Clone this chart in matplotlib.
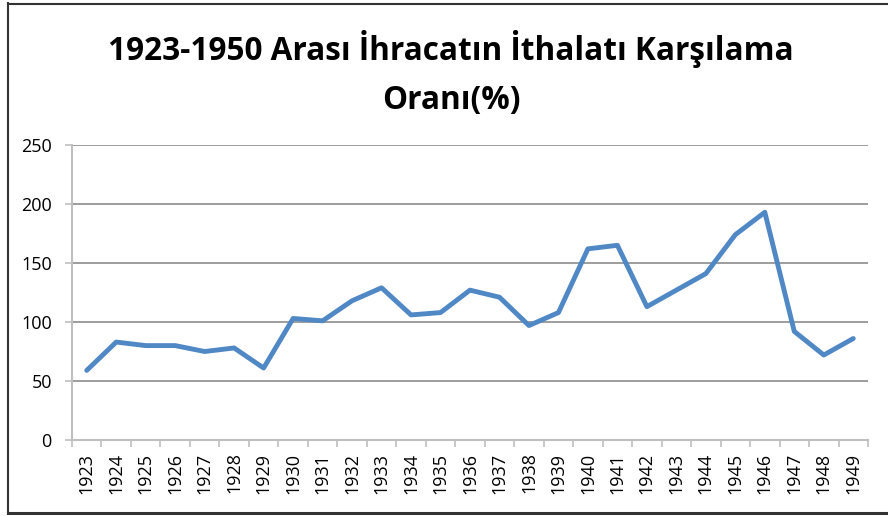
import numpy as np
import matplotlib.pyplot as plt
from matplotlib.lines import Line2D

# years and export/import coverage ratio (%)
years = [str(y) for y in range(1923, 1950)]
ratio = [59, 83, 80, 80, 75, 78, 61, 103, 101, 118, 129, 106, 108, 127,
         121, 97, 108, 162, 165, 113, 127, 141, 174, 193, 92, 72, 86]
yticks = [0, 50, 100, 150, 200, 250]

title = "1923-1950 Arası İhracatın İthalatı Karşılama\nOranı(%)"

plt.rcParams['font.family'] = ['Open Sans', 'DejaVu Sans']

fig = plt.figure(figsize=(8.88, 5.16), dpi=100)
ax = fig.add_axes([72 / 888, 1 - 440 / 516, 796 / 888, 295 / 516])

x = np.arange(len(years))
ax.plot(x, ratio, color="#5088C6", linewidth=3.5, solid_joinstyle="round",
        solid_capstyle="round")

ax.set_xlim(-0.5, len(years) - 0.5)
ax.set_ylim(0, 250)
ax.set_yticks(yticks)
ax.set_xticks(x)
ax.set_xticklabels(years, rotation=90)
ax.set_xticks(np.arange(-0.5, len(years)), minor=True)
ax.tick_params(axis="x", which="major", length=0, pad=9, labelsize=13)
ax.tick_params(axis="x", which="minor", length=5, width=1.2,
               color="#BFBFBF", direction="out")
ax.tick_params(axis="y", length=5, width=1.2, color="#BFBFBF",
               labelsize=13, pad=9.5)

ax.grid(axis="y", color="#8C8C8C", linewidth=1.2)
ax.set_axisbelow(True)
for s in ["top", "right"]:
    ax.spines[s].set_visible(False)
for s in ["left", "bottom"]:
    ax.spines[s].set_color("#BFBFBF")
    ax.spines[s].set_linewidth(1.5)

fig.text(451 / 888, 1 - 73.5 / 516, title, ha="center", va="center",
         fontsize=22.7, fontweight="bold", linespacing=1.66)

# screenshot frame (left, top, bottom edges)
W, H = 888, 516
for xs, ys, lw in [([7.5 / W, 7.5 / W], [3 / H, 1 - 3 / H], 1.5),
                   ([7.5 / W, 1], [1 - 3.5 / H, 1 - 3.5 / H], 1.5),
                   ([7.5 / W, 1], [3.5 / H, 3.5 / H], 2.2)]:
    fig.lines.append(Line2D(xs, ys, transform=fig.transFigure,
                            color="#333333", linewidth=lw))

plt.savefig("out.png", dpi=100)
